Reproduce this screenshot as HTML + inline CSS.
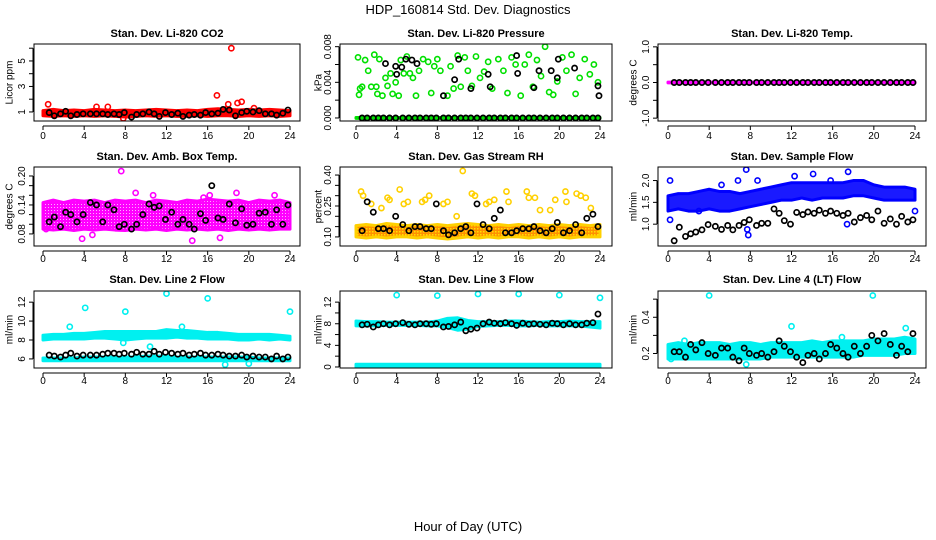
<!DOCTYPE html>
<html><head><meta charset="utf-8"><style>
html,body{margin:0;padding:0;background:#fff}
svg{display:block;font-family:"Liberation Sans",sans-serif}
</style></head><body>
<svg id="chart" width="936" height="540" viewBox="0 0 936 540" xmlns="http://www.w3.org/2000/svg">
<defs>
<pattern id="rhpat" width="3" height="3" patternUnits="userSpaceOnUse"><rect width="3" height="3" fill="#ff9000"/><rect width="1.5" height="1.5" fill="#ffe000"/></pattern>
<pattern id="magpat" width="3" height="3" patternUnits="userSpaceOnUse"><rect width="3" height="3" fill="#ff00ff"/><rect width="1" height="1" fill="#ffb0ff"/></pattern>
</defs>
<text x="468" y="14" text-anchor="middle" font-size="13">HDP_160814  Std. Dev. Diagnostics</text>
<text x="468" y="531" text-anchor="middle" font-size="13">Hour of Day (UTC)</text>
</svg>
<script>
const xTicks=[0,4,8,12,16,20,24];
const bandHours=[0,1,2,3,4,5,6,7,8,9,10,11,12,13,14,15,16,17,18,19,20,21,22,23,24];
const blackHours=[0.6,1.1,1.7,2.2,2.7,3.3,3.9,4.6,5.2,5.8,6.3,6.9,7.4,7.9,8.6,9.1,9.7,10.3,10.8,11.3,11.9,12.5,13.1,13.6,14.2,14.7,15.3,15.8,16.4,17.0,17.5,18.1,18.7,19.3,19.8,20.4,21.0,21.6,22.2,22.7,23.3,23.8];

// P1 CO2
const co2BandLo=[0.7,0.65,0.7,0.65,0.7,0.65,0.7,0.65,0.6,0.65,0.7,0.65,0.7,0.65,0.65,0.7,0.65,0.7,0.7,0.65,0.7,0.65,0.7,0.65,0.7];
const co2BandHi=[1.1,1.2,1.1,1.15,1.1,1.2,1.15,1.1,1.15,1.1,1.15,1.2,1.15,1.1,1.15,1.1,1.2,1.25,1.2,1.15,1.2,1.15,1.2,1.15,1.1];
const co2OutH=[0.5,5.2,6.3,16.9,18.0,18.3,18.9,19.3,20.5,17.8,7.8];
const co2OutV=[1.6,1.4,1.4,2.3,1.6,6.0,1.7,1.8,1.3,1.2,0.5];
const co2Black=[0.95,0.7,0.85,1.05,0.7,0.8,0.85,0.85,0.85,0.85,0.8,0.85,0.8,0.95,0.6,0.8,0.85,1.0,0.85,0.65,0.95,0.8,0.9,0.65,0.75,0.8,0.75,0.95,0.85,0.9,1.2,1.15,0.7,0.95,1.05,1.0,1.1,0.85,0.85,0.75,0.9,1.15];

// P2 Pressure
const presBandLo=bandHours.map(()=>-0.00005);
const presBandHi=bandHours.map(()=>0.00005);
const presOutH=[0.2,0.4,0.3,0.6,0.9,1.2,1.5,1.8,2.1,2.3,2.0,2.6,2.9,3.1,3.4,3.6,3.9,4.2,4.4,4.7,5.0,5.3,5.6,5.9,6.2,6.6,7.1,7.4,7.7,8.0,8.3,9.0,9.3,9.6,10.0,10.3,10.7,11.0,11.4,11.8,12.2,12.6,13.0,13.4,14.0,14.5,14.9,15.3,15.7,16.2,16.6,17.0,17.4,17.8,18.2,18.6,19.0,19.4,19.8,20.3,20.7,21.2,21.6,22.0,22.5,23.0,23.4,23.8];
const presOutV=[.0068,.0033,.0026,.0035,.0065,.0053,.0035,.0071,.0027,.0066,.0035,.0025,.0045,.0036,.0050,.0027,.0040,.0025,.0065,.0050,.0069,.0050,.0045,.0025,.0053,.0066,.0063,.0028,.0058,.0066,.0053,.0025,.0058,.0033,.0070,.0035,.0068,.0053,.0036,.0069,.0045,.0052,.0063,.0033,.0066,.0053,.0028,.0068,.0060,.0025,.0060,.0071,.0035,.0065,.0047,.0080,.0029,.0026,.0041,.0068,.0053,.0071,.0027,.0045,.0066,.0049,.0060,.0040];
const presBlackH=blackHours.concat([2.9,3.9,4.0,4.5,4.9,5.5,6.0,8.6,9.7,10.1,11.3,13.0,13.2,15.8,15.9,17.5,18.0,19.2,19.9,19.8,21.5,23.8,23.9]);
const presBlack=blackHours.map(()=>0).concat([.0061,.0058,.0049,.0057,.0066,.0065,.0061,.0025,.0043,.0066,.0033,.0049,.0035,.0070,.0050,.0034,.0053,.0053,.0066,.0045,.0056,.0036,.0025]);

// P3 Temp
const tempBandLo=bandHours.map(()=>-0.01);
const tempBandHi=bandHours.map(()=>0.01);
const tempOutH=[];
const tempOutV=[];
const tempBlack=blackHours.map(()=>0);

// P4 Box temp
const boxBandLo=[0.09,0.088,0.09,0.087,0.09,0.088,0.09,0.088,0.087,0.09,0.088,0.09,0.087,0.09,0.088,0.09,0.088,0.09,0.087,0.09,0.088,0.09,0.088,0.09,0.09];
const boxBandHi=[0.145,0.15,0.145,0.15,0.148,0.15,0.145,0.15,0.148,0.15,0.145,0.15,0.148,0.145,0.15,0.148,0.152,0.15,0.148,0.15,0.145,0.15,0.148,0.15,0.145];
const boxOutH=[7.6,14.5,16.2,3.8,4.8,9.0,22.5,10.7,18.8,0.3,17.2,15.6];
const boxOutV=[0.21,0.066,0.16,0.07,0.078,0.165,0.16,0.16,0.165,0.09,0.072,0.155];
const boxBlack=[0.105,0.115,0.095,0.125,0.12,0.105,0.12,0.145,0.14,0.105,0.14,0.13,0.095,0.1,0.09,0.1,0.12,0.142,0.135,0.138,0.11,0.125,0.1,0.11,0.1,0.09,0.122,0.108,0.18,0.113,0.11,0.142,0.103,0.132,0.098,0.1,0.123,0.125,0.1,0.13,0.1,0.14];

// P5 RH
const rhBandLo=[0.1,0.095,0.1,0.095,0.1,0.1,0.095,0.1,0.095,0.09,0.095,0.1,0.095,0.1,0.095,0.1,0.1,0.095,0.1,0.095,0.1,0.095,0.1,0.1,0.1];
const rhBandHi=[0.155,0.16,0.155,0.165,0.16,0.155,0.16,0.155,0.16,0.155,0.16,0.165,0.16,0.155,0.16,0.155,0.16,0.155,0.16,0.155,0.16,0.155,0.16,0.155,0.16];
const rhOutH=[0.5,0.7,1.5,2.5,3.1,3.3,4.3,4.7,5.1,6.5,6.8,7.2,8.6,9.0,9.9,11.4,11.7,12.8,13.1,13.6,14.8,15.0,16.8,17.0,17.6,18.1,19.1,19.6,20.6,20.7,21.7,22.1,22.6,23.1,10.5];
const rhOutV=[0.32,0.30,0.26,0.24,0.29,0.28,0.33,0.26,0.27,0.27,0.28,0.30,0.26,0.27,0.20,0.31,0.30,0.26,0.27,0.28,0.32,0.27,0.32,0.29,0.29,0.23,0.23,0.28,0.32,0.27,0.31,0.30,0.29,0.24,0.42];
const rhBlack=[0.13,0.27,0.22,0.14,0.14,0.13,0.2,0.16,0.13,0.15,0.15,0.14,0.14,0.26,0.13,0.11,0.12,0.14,0.15,0.12,0.26,0.16,0.14,0.19,0.23,0.12,0.12,0.13,0.14,0.14,0.15,0.13,0.12,0.14,0.17,0.12,0.13,0.16,0.12,0.19,0.21,0.15];

// P6 Sample flow
const sfBandLo=[1.3,1.35,1.3,1.3,1.35,1.3,1.3,1.35,1.4,1.45,1.5,1.55,1.55,1.6,1.55,1.6,1.6,1.6,1.65,1.65,1.6,1.55,1.55,1.55,1.55];
const sfBandHi=[1.65,1.7,1.7,1.75,1.8,1.75,1.75,1.7,1.75,1.8,1.85,1.9,1.95,1.95,1.95,1.95,1.95,1.95,2.0,2.0,1.9,1.85,1.85,1.85,1.8];
const sfOutH=[0.2,0.2,5.2,6.8,7.6,7.7,8.7,12.3,14.1,17.5,17.4,7.8,3.0,15.8,24.0];
const sfOutV=[2.0,1.1,1.9,2.0,2.25,0.88,2.0,2.1,2.15,2.2,1.0,0.75,1.3,2.0,1.3];
const sfBlack=[0.62,0.93,0.72,0.78,0.82,0.87,0.99,0.95,0.88,0.97,0.87,0.97,1.04,1.1,0.97,1.02,1.02,1.35,1.25,1.08,1.0,1.27,1.22,1.28,1.25,1.32,1.25,1.3,1.25,1.2,1.25,1.05,1.15,1.2,1.1,1.3,1.02,1.12,1.0,1.18,1.05,1.1];

// P7 Line 2
const l2BandLo=[8.0,8.1,8.1,8.1,8.1,8.2,8.2,8.1,8.0,8.1,8.2,8.2,8.2,8.3,8.2,8.2,8.1,8.1,8.1,8.0,8.0,8.1,8.0,8.1,8.0];
const l2BandHi=[8.5,8.6,8.6,8.7,8.7,8.8,8.9,8.9,8.9,8.9,8.9,8.9,9.1,9.0,9.0,8.9,8.8,8.8,8.7,8.6,8.6,8.6,8.6,8.5,8.4];
const l2Band2Lo=bandHours.map(()=>5.8);
const l2Band2Hi=[6.1,6.1,6.1,6.1,6.2,6.2,6.2,6.2,6.2,6.2,6.3,6.3,6.3,6.2,6.2,6.2,6.2,6.2,6.2,6.2,6.2,6.1,6.1,6.1,6.1];
const l2OutH=[4.1,8.0,12.0,16.0,24.0,2.6,10.4,17.7,20.0,7.8,13.5];
const l2OutV=[11.4,11.0,12.9,12.4,11.0,9.4,7.3,5.4,5.5,7.7,9.4];
const l2Black=[6.4,6.3,6.2,6.4,6.6,6.3,6.4,6.4,6.4,6.5,6.6,6.6,6.5,6.6,6.5,6.7,6.5,6.5,6.8,6.5,6.7,6.6,6.5,6.6,6.4,6.5,6.6,6.4,6.4,6.5,6.4,6.3,6.3,6.4,6.2,6.3,6.2,6.2,6.0,6.3,6.0,6.2];

// P8 Line 3
const l3BandLo=[7.6,7.6,7.6,7.7,7.7,7.7,7.7,7.6,7.6,7.3,6.8,7.0,7.5,7.6,7.7,7.7,7.6,7.6,7.7,7.6,7.6,7.6,7.6,7.4,7.2];
const l3BandHi=[8.5,8.4,8.4,8.3,8.3,8.3,8.3,8.3,8.5,9.0,9.1,8.6,8.4,8.4,8.4,8.5,8.5,8.4,8.3,8.4,8.4,8.5,8.4,8.4,8.4];
const l3Band2Lo=bandHours.map(()=>0.0);
const l3Band2Hi=bandHours.map(()=>0.5);
const l3OutH=[4,8,12,16,20,24];
const l3OutV=[13.3,13.2,13.5,13.5,13.3,12.8];
const l3Black=[7.8,7.9,7.4,7.8,8.0,7.8,8.0,8.2,7.9,7.8,8.0,8.0,7.9,8.0,7.4,7.5,7.8,8.3,6.7,7.0,7.2,8.0,8.3,8.1,8.0,8.2,8.0,7.7,8.1,7.9,8.0,7.9,7.8,8.1,8.0,7.8,8.0,7.8,7.8,8.1,8.2,9.8];

// P9 Line 4
const l4BandLo=[0.17,0.17,0.17,0.17,0.17,0.17,0.17,0.17,0.17,0.17,0.18,0.18,0.18,0.18,0.18,0.18,0.18,0.18,0.18,0.19,0.19,0.19,0.19,0.2,0.2];
const l4BandHi=[0.25,0.26,0.25,0.26,0.26,0.26,0.25,0.26,0.26,0.25,0.26,0.26,0.26,0.26,0.27,0.26,0.27,0.27,0.27,0.27,0.28,0.28,0.28,0.29,0.28];
const l4OutH=[4.0,19.9,12.0,23.1,1.6,7.6,16.9,0.3];
const l4OutV=[0.52,0.52,0.35,0.34,0.27,0.14,0.29,0.17];
const l4Black=[0.21,0.21,0.18,0.25,0.22,0.26,0.2,0.19,0.23,0.23,0.18,0.16,0.23,0.2,0.19,0.2,0.18,0.21,0.27,0.24,0.21,0.18,0.15,0.19,0.2,0.17,0.2,0.25,0.23,0.2,0.18,0.24,0.2,0.24,0.3,0.27,0.31,0.25,0.19,0.24,0.21,0.31];

const NS='http://www.w3.org/2000/svg';
const svg=document.getElementById('chart');
function mk(tag,attrs,parent){const e=document.createElementNS(NS,tag);for(const k in attrs)e.setAttribute(k,attrs[k]);(parent||svg).appendChild(e);return e;}

const cols=[{x0:34,x1:300,h0:43,h24:290,yl:10},{x0:340,x1:612,h0:356,h24:600,yl:319},{x0:658,x1:926,h0:668,h24:915,yl:634}];
const rows=[{y0:44,y1:121,t:37,xl:139},{y0:167,y1:246,t:160,xl:262},{y0:291,y1:368,t:283,xl:384}];

const panels=[
 {r:0,c:0,name:'co2',title:'Stan. Dev. Li-820 CO2',ylab:'Licor ppm',ymin:0.29,ymax:6.33,ticks:[1,2,3,4,5,6],labels:[1,3,5],fmt:v=>String(v),col:'#ff0000',fill:'#ff0000',bands:[[co2BandLo,co2BandHi]],outH:co2OutH,outV:co2OutV,bH:blackHours,bV:co2Black},
 {r:0,c:1,name:'pressure',title:'Stan. Dev. Li-820 Pressure',ylab:'kPa',ymin:-0.00034,ymax:0.0083,ticks:[0,0.002,0.004,0.006,0.008],labels:[0,0.004,0.008],fmt:v=>v.toFixed(3),col:'#00e000',fill:'#00e000',bands:[[presBandLo,presBandHi]],outH:presOutH,outV:presOutV,bH:presBlackH,bV:presBlack},
 {r:0,c:2,name:'temp',title:'Stan. Dev. Li-820 Temp.',ylab:'degrees C',ymin:-1.08,ymax:1.08,ticks:[-1,-0.5,0,0.5,1],labels:[-1,0,1],fmt:v=>v.toFixed(1),col:'#ff00ff',fill:'#ff00ff',bands:[[tempBandLo,tempBandHi]],outH:tempOutH,outV:tempOutV,bH:blackHours,bV:tempBlack},
 {r:1,c:0,name:'box-temp',title:'Stan. Dev. Amb. Box Temp.',ylab:'degrees C',ymin:0.055,ymax:0.2186,ticks:[0.08,0.1,0.12,0.14,0.16,0.18,0.2],labels:[0.08,0.14,0.2],fmt:v=>v.toFixed(2),col:'#ff00ff',fill:'url(#magpat)',bands:[[boxBandLo,boxBandHi]],outH:boxOutH,outV:boxOutV,bH:blackHours,bV:boxBlack},
 {r:1,c:1,name:'rh',title:'Stan. Dev. Gas Stream RH',ylab:'percent',ymin:0.056,ymax:0.439,ticks:[0.1,0.15,0.2,0.25,0.3,0.35,0.4],labels:[0.1,0.25,0.4],fmt:v=>v.toFixed(2),col:'#ffd000',fill:'url(#rhpat)',bands:[[rhBandLo,rhBandHi]],outH:rhOutH,outV:rhOutV,bH:blackHours,bV:rhBlack},
 {r:1,c:2,name:'sample-flow',title:'Stan. Dev. Sample Flow',ylab:'ml/min',ymin:0.5,ymax:2.31,ticks:[1,1.5,2],labels:[1,1.5,2],fmt:v=>v.toFixed(1),col:'#0000ff',fill:'#1a1aff',bands:[[sfBandLo,sfBandHi]],outH:sfOutH,outV:sfOutV,bH:blackHours,bV:sfBlack},
 {r:2,c:0,name:'line2-flow',title:'Stan. Dev. Line 2 Flow',ylab:'ml/min',ymin:5.04,ymax:13.18,ticks:[6,8,10,12],labels:[6,8,10,12],fmt:v=>String(v),col:'#00f0f0',fill:'#00f0f0',bands:[[l2BandLo,l2BandHi],[l2Band2Lo,l2Band2Hi]],outH:l2OutH,outV:l2OutV,bH:blackHours,bV:l2Black},
 {r:2,c:1,name:'line3-flow',title:'Stan. Dev. Line 3 Flow',ylab:'ml/min',ymin:-0.19,ymax:14.06,ticks:[0,2,4,6,8,10,12],labels:[0,4,8,12],fmt:v=>String(v),col:'#00f0f0',fill:'#00f0f0',bands:[[l3BandLo,l3BandHi],[l3Band2Lo,l3Band2Hi]],outH:l3OutH,outV:l3OutV,bH:blackHours,bV:l3Black},
 {r:2,c:2,name:'line4-flow',title:'Stan. Dev. Line 4 (LT) Flow',ylab:'ml/min',ymin:0.12,ymax:0.545,ticks:[0.2,0.3,0.4,0.5],labels:[0.2,0.4],fmt:v=>v.toFixed(1),col:'#00f0f0',fill:'#00f0f0',bands:[[l4BandLo,l4BandHi]],outH:l4OutH,outV:l4OutV,bH:blackHours,bV:l4Black}
];

panels.forEach(p=>{
  const C=cols[p.c],R=rows[p.r];
  const g=mk('g',{});
  
  
  const X=h=>C.h0+(C.h24-C.h0)*h/24;
  const Y=v=>R.y1-(R.y1-R.y0)*(v-p.ymin)/(p.ymax-p.ymin);
  const t=mk('text',{x:(C.x0+C.x1)/2,y:R.t,'text-anchor':'middle','font-size':'11','font-weight':'bold'},g);
  t.textContent=p.title;
  
  
  const cp=mk('clipPath',{id:'cp'+p.name},g);
  mk('rect',{x:C.x0,y:R.y0,width:C.x1-C.x0,height:R.y1-R.y0},cp);
  const plot=mk('g',{'clip-path':'url(#cp'+p.name+')'},g);
  p.bands.forEach((b,bi)=>{
    const pts=bandHours.map((h,i)=>X(h)+','+Y(b[1][i])).concat(bandHours.map((h,i)=>[h,i]).reverse().map(([h,i])=>X(h)+','+Y(b[0][i])));
    const poly=mk('polygon',{points:pts.join(' '),fill:p.fill,stroke:p.col,'stroke-width':3,'stroke-linejoin':'round'},plot);
    
    
  });
  for(let i=0;i<Math.min(p.outH.length,p.outV.length);i++){
    const c=mk('circle',{cx:X(p.outH[i]),cy:Y(p.outV[i]),r:2.6,fill:'none',stroke:p.col,'stroke-width':1.6},plot);
    
    
  }
  for(let i=0;i<Math.min(p.bH.length,p.bV.length);i++){
    const c=mk('circle',{cx:X(p.bH[i]),cy:Y(p.bV[i]),r:2.6,fill:'none',stroke:'#000','stroke-width':1.7},plot);
    
    
  }
  const box=mk('rect',{x:C.x0,y:R.y0,width:C.x1-C.x0,height:R.y1-R.y0,fill:'none',stroke:'#000','stroke-width':1},g);
  
  
  const xa=mk('g',{stroke:'#000','stroke-width':1},g);
  
  
  mk('line',{x1:X(0),x2:X(24),y1:R.y1+5,y2:R.y1+5},xa);
  xTicks.forEach(h=>{
    mk('line',{x1:X(h),x2:X(h),y1:R.y1+5,y2:R.y1+9},xa);
    const tl=mk('text',{x:X(h),y:R.xl,'text-anchor':'middle','font-size':'10',stroke:'none'},g);
    tl.textContent=String(h);
    
    
  });
  const ya=mk('g',{stroke:'#000','stroke-width':1},g);
  
  
  const ax=C.x0-1;
  mk('line',{x1:ax,x2:ax,y1:Y(p.ticks[0]),y2:Y(p.ticks[p.ticks.length-1])},ya);
  p.ticks.forEach(v=>mk('line',{x1:ax-4,x2:ax,y1:Y(v),y2:Y(v)},ya));
  p.labels.forEach(v=>{
    const tx=ax-8,ty=Y(v);
    const tl=mk('text',{x:tx,y:ty,'text-anchor':'middle','font-size':'10',transform:'rotate(-90 '+tx+' '+ty+')'},g);
    tl.textContent=p.fmt(v);
    
    
  });
  const yt=C.yl,ym=(R.y0+R.y1)/2;
  const yl=mk('text',{x:yt,y:ym,'text-anchor':'middle','font-size':'10',transform:'rotate(-90 '+yt+' '+ym+')','dominant-baseline':'middle'},g);
  yl.textContent=p.ylab;
  
  
});
</script>
</body></html>
